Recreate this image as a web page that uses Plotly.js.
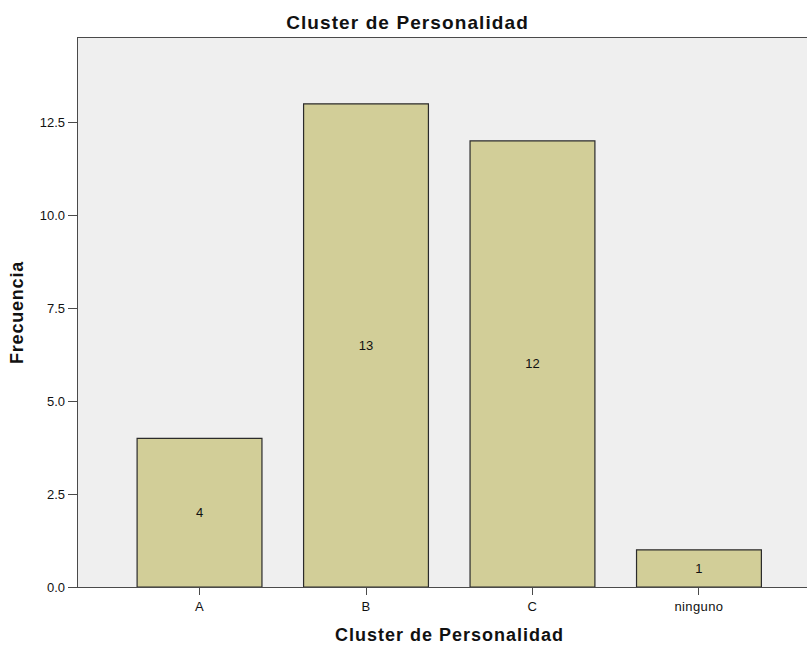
<!DOCTYPE html>
<html>
<head>
<meta charset="utf-8">
<script src="https://cdn.plot.ly/plotly-3.0.1.min.js"></script>
<style>
  html, body { margin: 0; padding: 0; background: #ffffff; }
  #chart { width: 807px; height: 645px; }
  /* slightly spaced-out bold titles */
  #chart .gtitle { letter-spacing: 1.1px; }
  #chart .xtitle { letter-spacing: 1px; transform: translate(7px, 0px); }
  #chart .ytitle { letter-spacing: 0.8px; }
  #chart .xtick text { letter-spacing: 0.4px; }
</style>
</head>
<body>
<div id="chart"></div>
<script>
// Frequency of each personality cluster
const categories = ['A', 'B', 'C', 'ninguno'];
const frecuencias = [4, 13, 12, 1];
const yTicks = [0, 2.5, 5, 7.5, 10, 12.5];

const font = 'Arial, "Liberation Sans", sans-serif';

const trace = {
  type: 'bar',
  x: categories,
  y: frecuencias,
  text: frecuencias.map(String),
  textposition: 'inside',
  insidetextanchor: 'middle',
  textangle: 0,
  textfont: { family: font, size: 13, color: '#111111' },
  width: 0.75,
  marker: {
    color: '#D2CE98',
    line: { color: '#2b2b2b', width: 1.2 }
  },
  hoverinfo: 'x+y'
};

const layout = {
  width: 807,
  height: 645,
  margin: { l: 78, r: 0, t: 38, b: 58 },
  paper_bgcolor: '#ffffff',
  plot_bgcolor: '#EFEFEF',
  showlegend: false,
  title: {
    text: '<b>Cluster de Personalidad</b>',
    font: { family: font, size: 19, color: '#111111' },
    x: 0.505,
    xref: 'container',
    xanchor: 'center',
    y: 0.966,
    yref: 'container',
    yanchor: 'middle'
  },
  xaxis: {
    type: 'category',
    range: [-0.73, 3.649],
    showgrid: false,
    zeroline: false,
    showline: true,
    mirror: true,
    linecolor: '#4a4a4a',
    linewidth: 1.3,
    ticks: 'outside',
    ticklen: 7,
    tickcolor: '#4a4a4a',
    tickfont: { family: font, size: 13, color: '#111111' },
    title: {
      text: '<b>Cluster de Personalidad</b>',
      font: { family: font, size: 18, color: '#111111' },
      standoff: 18
    }
  },
  yaxis: {
    range: [0, 14.77],
    tickvals: yTicks,
    tickformat: '.1f',
    showgrid: false,
    zeroline: false,
    showline: true,
    linecolor: '#4a4a4a',
    linewidth: 1.3,
    ticks: 'outside',
    ticklen: 9,
    tickcolor: '#4a4a4a',
    tickfont: { family: font, size: 13, color: '#111111' },
    title: {
      text: '<b>Frecuencia</b>',
      font: { family: font, size: 18, color: '#111111' },
      standoff: 11
    }
  }
};

Plotly.newPlot('chart', [trace], layout, { displayModeBar: false, staticPlot: true });
</script>
</body>
</html>
